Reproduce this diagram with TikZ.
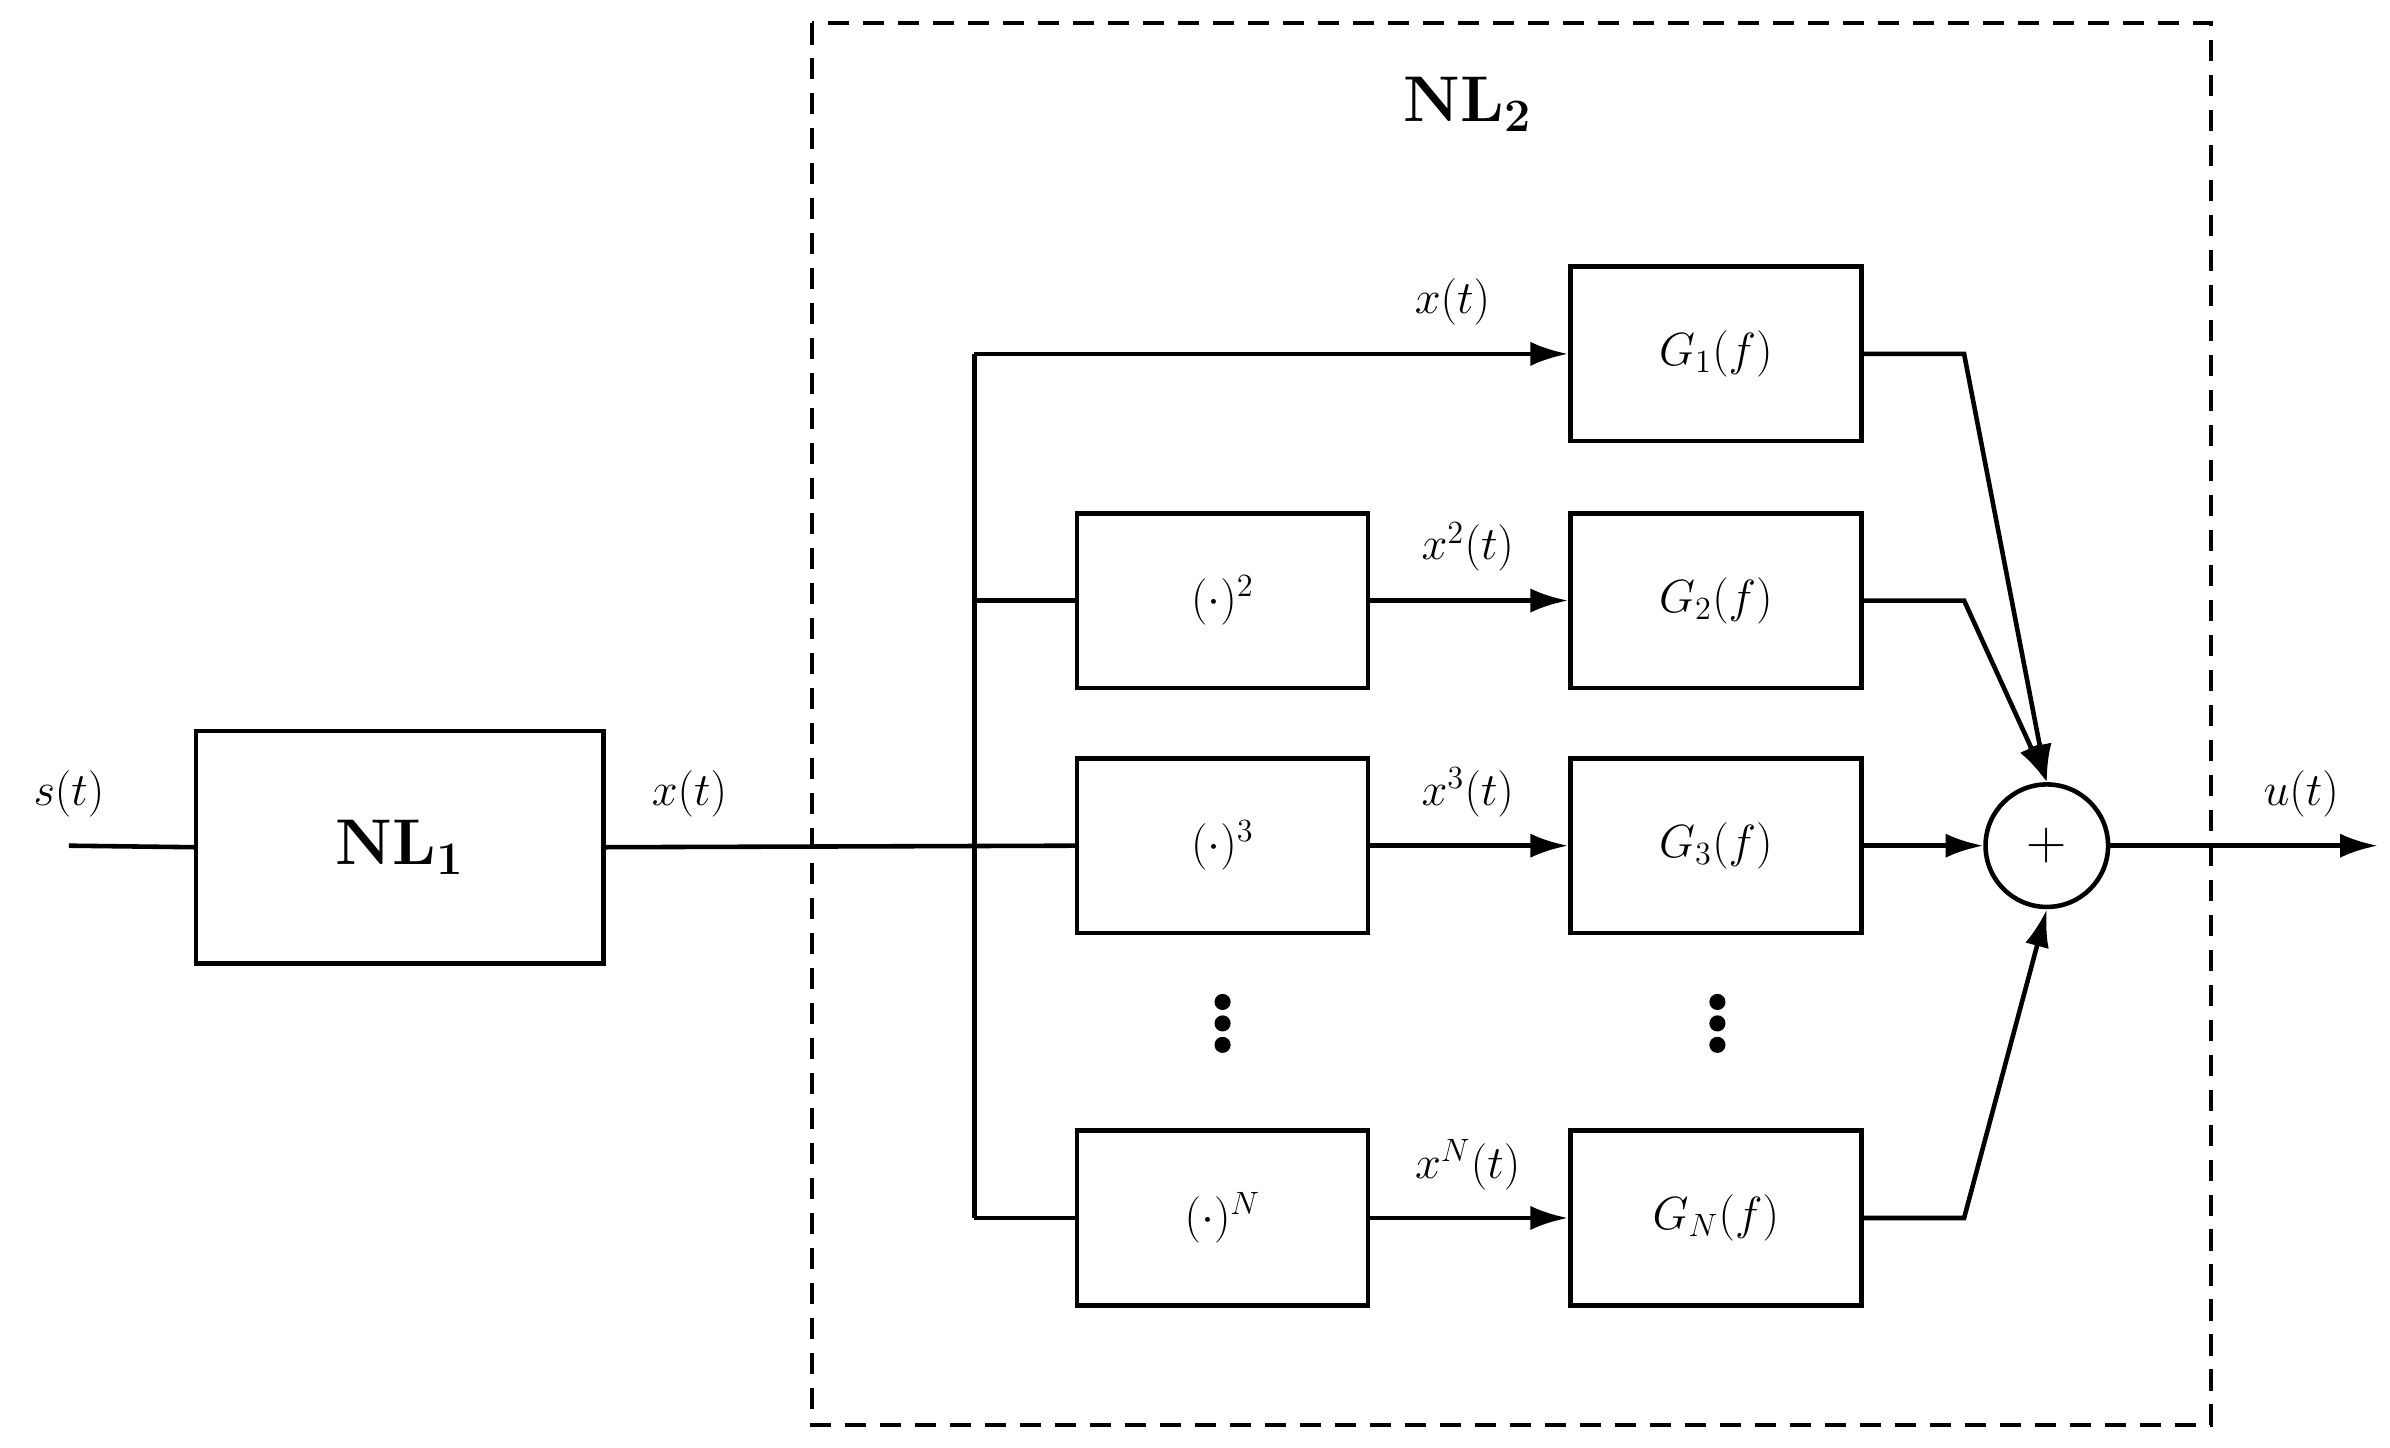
\documentclass[tikz,border=0pt]{standalone}
\usetikzlibrary{arrows.meta}
\begin{document}
\begin{tikzpicture}[x=0.02cm,y=-0.02cm,line width=1.7pt,
  box/.style={draw,minimum width=3.8cm,minimum height=2.28cm,inner sep=0pt,font=\fontsize{17}{20}\selectfont},
  lbl/.style={font=\fontsize{17}{20}\selectfont,inner sep=0pt},
  arr/.style={-{Latex[length=14pt,width=9pt]}}]
\useasboundingbox (0,0) rectangle (1560,945);
\draw[dashed,line width=1.6pt,dash pattern=on 8pt off 5pt] (530,15) rectangle (1443,930);
\node[lbl,font=\fontsize{24}{28}\selectfont\bfseries] (nl2) at (958,68) {NL$_\mathbf{2}$};
\node[draw,minimum width=5.32cm,minimum height=3.04cm,inner sep=0pt,font=\fontsize{24}{28}\selectfont\bfseries] (nl1) at (261,553) {NL$_\mathbf{1}$};
\coordinate (s) at (45,552);
\node[lbl] (st) at (45,518) {$s(t)$};
\node[lbl] (xt) at (450,518) {$x(t)$};
\draw (s) -- (nl1.west);
\coordinate (jt) at (636,231); \coordinate (j2) at (636,392); \coordinate (j3) at (636,552); \coordinate (jn) at (636,795);
\draw (jt) -- (jn);
\node[box] (p2) at (798,392) {$(\cdot)^2$};
\node[box] (p3) at (798,552) {$(\cdot)^3$};
\node[box] (pn) at (798,795) {$(\cdot)^N$};
\node[box] (g1) at (1120,231) {$G_1(f)$};
\node[box] (g2) at (1120,392) {$G_2(f)$};
\node[box] (g3) at (1120,552) {$G_3(f)$};
\node[box] (gn) at (1120,795) {$G_N(f)$};
\node[draw,circle,minimum size=1.6cm,inner sep=0pt,font=\fontsize{20}{24}\selectfont] (sum) at (1336,552) {$+$};
\draw (nl1.east) -- (p3.west);
\draw (j2) -- (p2.west); \draw (jn) -- (pn.west);
\draw[arr] (jt) -- (g1.west);
\draw[arr] (p2) -- (g2); \draw[arr] (p3) -- (g3); \draw[arr] (pn) -- (gn);
\node[lbl] (l1) at (948,197) {$x(t)$};
\node[lbl] (l2) at (958,357) {$x^2(t)$};
\node[lbl] (l3) at (958,517) {$x^3(t)$};
\node[lbl] (ln) at (958,760) {$x^N(t)$};
\coordinate (b1) at (1282,231); \coordinate (b2) at (1282,392); \coordinate (bn) at (1282,795);
\draw[arr] (g1.east) -- (b1) -- (sum.north);
\draw[arr] (g2.east) -- (b2) -- (sum.north);
\draw[arr] (g3.east) -- (sum.west);
\draw[arr] (gn.east) -- (bn) -- (sum.south);
\coordinate (out) at (1552,552);
\draw[arr] (sum.east) -- (out);
\node[lbl] (ut) at (1502,518) {$u(t)$};
\foreach \x in {798,1121} \foreach \y in {654,668,682} \fill (\x,\y) circle (3pt);
\end{tikzpicture}
\end{document}
